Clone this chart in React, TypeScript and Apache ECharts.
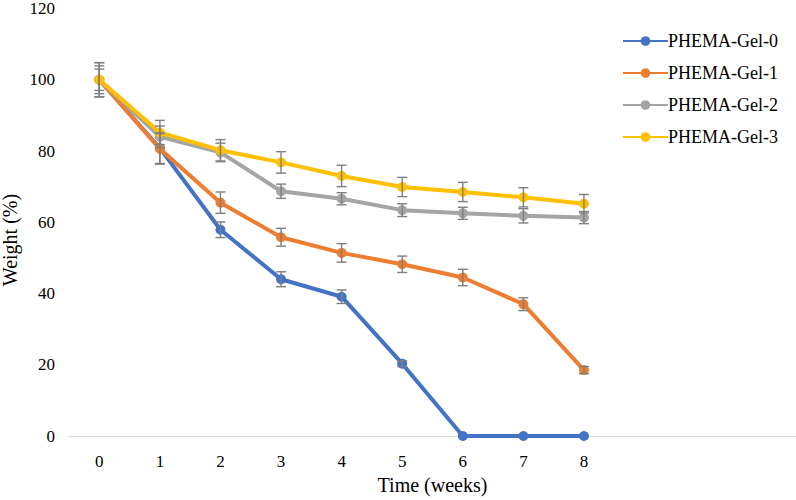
import React, { useRef, useEffect } from "react"
import * as echarts from "echarts"

// weeks on the x axis (extra empty slots: the plot area runs on under the legend)
const weeks = ["0", "1", "2", "3", "4", "5", "6", "7", "8", "", "", ""]
const yTicks = [0, 20, 40, 60, 80, 100, 120]

const seriesNames = ["PHEMA-Gel-0", "PHEMA-Gel-1", "PHEMA-Gel-2", "PHEMA-Gel-3"]
const seriesColors = ["#4472C4", "#ED7D31", "#A5A5A5", "#FFC000"]

const gel0 = [100, 80.8, 57.9, 44, 39.1, 20.3, 0, 0, 0]
const gel1 = [100, 80.6, 65.5, 55.8, 51.4, 48.2, 44.5, 37, 18.5]
const gel2 = [100, 84, 79.6, 68.7, 66.6, 63.4, 62.5, 61.8, 61.3]
const gel3 = [100, 85.2, 80.2, 76.8, 73, 69.9, 68.5, 67, 65.2]

// standard deviations (error bars)
const gel0Err = [4.8, 4.3, 2.2, 2.1, 1.9, 0.8, 0, 0, 0]
const gel1Err = [3.9, 4.3, 3.0, 2.5, 2.6, 2.3, 2.3, 1.8, 1.0]
const gel2Err = [3.0, 3.0, 2.6, 2.0, 1.7, 1.8, 1.7, 2.0, 1.7]
const gel3Err = [4.8, 3.4, 3.0, 3.0, 3.0, 2.7, 2.7, 2.7, 2.6]

const FONT = "Liberation Serif"

export default function App() {
  const chartRef = useRef<HTMLDivElement>(null)

  useEffect(() => {
    if (!chartRef.current) return
    const chart = echarts.init(chartRef.current, undefined, { renderer: "svg" })

    const values = [gel0, gel1, gel2, gel3]
    const errors = [gel0Err, gel1Err, gel2Err, gel3Err]

    const lineSeries = values.map((vals, i) => ({
      name: seriesNames[i],
      type: "line",
      data: vals,
      symbol: "circle",
      symbolSize: 10,
      lineStyle: { width: 4, color: seriesColors[i] },
      itemStyle: { color: seriesColors[i] },
      z: 2 + i,
    }))

    const errSeries = values.map((vals, i) => ({
      name: seriesNames[i] + "-err",
      type: "custom",
      data: vals.map((v, j) => [j, v, errors[i][j]]),
      z: 10,
      renderItem: (params: any, api: any) => {
        const x = api.value(0)
        const y = api.value(1)
        const e = api.value(2)
        if (!e) return null
        const top = api.coord([x, y + e])
        const bot = api.coord([x, y - e])
        const w = 5
        const style = { stroke: "#7F7F7F", lineWidth: 1.4 }
        return {
          type: "group",
          children: [
            { type: "line", shape: { x1: top[0], y1: top[1], x2: bot[0], y2: bot[1] }, style },
            { type: "line", shape: { x1: top[0] - w, y1: top[1], x2: top[0] + w, y2: top[1] }, style },
            { type: "line", shape: { x1: bot[0] - w, y1: bot[1], x2: bot[0] + w, y2: bot[1] }, style },
          ],
        }
      },
    }))

    const option = {
      animation: false,
      textStyle: { fontFamily: FONT },
      grid: { left: 69, width: 734, top: 6, bottom: 59 },
      legend: {
        data: seriesNames,
        orient: "vertical",
        left: 617,
        top: 27,
        itemWidth: 45,
        itemHeight: 12,
        itemGap: 14,
        textStyle: { fontFamily: FONT, fontSize: 18, color: "#000", padding: [0, 0, 0, -5] },
      },
      xAxis: {
        type: "category",
        data: weeks,
        boundaryGap: true,
        axisLine: { lineStyle: { color: "#D9D9D9", width: 1 } },
        axisTick: { show: false },
        axisLabel: { color: "#000", fontSize: 17, fontFamily: FONT, margin: 17, interval: 0 },
        name: "Time (weeks)",
        nameLocation: "middle",
        nameGap: 39,
        nameTextStyle: { color: "#000", fontSize: 20, fontFamily: FONT },
      },
      yAxis: {
        type: "value",
        min: yTicks[0],
        max: yTicks[yTicks.length - 1],
        interval: yTicks[1] - yTicks[0],
        axisLine: { show: false },
        axisTick: { show: false },
        splitLine: { show: false },
        axisLabel: { color: "#000", fontSize: 17, fontFamily: FONT, margin: 14 },
      },
      graphic: [
        {
          type: "text",
          x: 10,
          y: 240,
          rotation: Math.PI / 2,
          style: {
            text: "Weight (%)",
            fontSize: 20,
            fontFamily: FONT,
            fill: "#000",
            align: "center",
            verticalAlign: "middle",
          },
        },
      ],
      series: [...lineSeries, ...errSeries],
    }

    chart.setOption(option as any)
    return () => chart.dispose()
  }, [])

  return (
    <div
      ref={chartRef}
      style={{ position: "fixed", left: 0, top: 0, width: 796, height: 500, background: "#fff" }}
    />
  )
}
